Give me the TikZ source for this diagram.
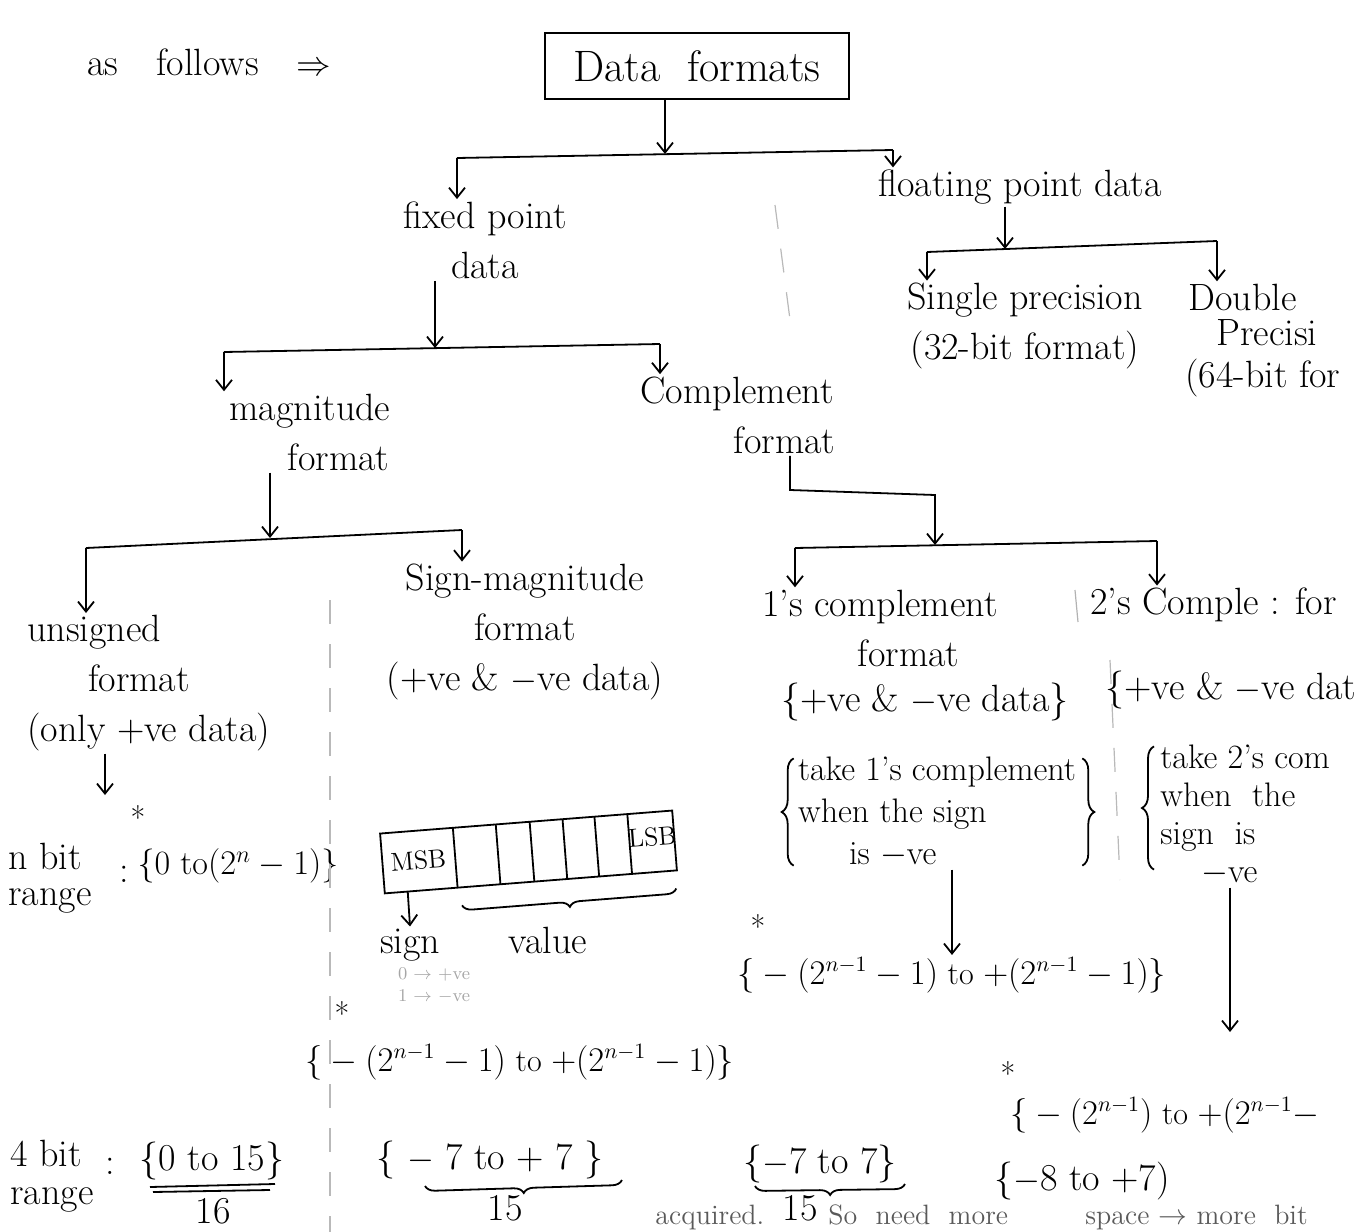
\documentclass[tikz,border=0pt]{standalone}
\usetikzlibrary{arrows.meta,decorations.pathreplacing,calc}
\begin{document}
\begin{tikzpicture}[x=0.5pt,y=-0.5pt,
  txt/.style={font=\fontsize{19}{25}\selectfont, inner sep=1pt, align=center},
  tighttxt/.style={font=\fontsize{19}{18}\selectfont, inner sep=1pt, align=left},
  smalltxt/.style={font=\fontsize{17}{21}\selectfont, inner sep=1pt, align=left},
  rangetxt/.style={font=\fontsize{16}{20}\selectfont, inner sep=1pt},
  notetxt/.style={font=\fontsize{14}{14}\selectfont, text=gray!70!black, anchor=base west, inner sep=0pt},
  arr/.style={-{Straight Barb[length=5pt,width=8pt]}, line width=0.9pt},
  ln/.style={line width=0.9pt},
  faint/.style={gray!55, line width=0.6pt, dash pattern=on 12pt off 10pt},
  starmark/.style={font=\fontsize{16}{16}\selectfont, inner sep=0pt},
  bracedown/.style={decorate, decoration={brace, mirror, amplitude=5pt}, line width=0.9pt},
  sidebrace/.style={decorate, decoration={brace, amplitude=6pt}, line width=0.9pt}]
\useasboundingbox (0,0) rectangle (1357,1232);
\clip (0,0) rectangle (1357,1232);

% intro and title
\node[txt, anchor=west] (intro) at (85,62) {as\quad follows\quad $\Rightarrow$};
\node[txt, draw, line width=1pt, font=\fontsize{22}{26}\selectfont, minimum width=152pt, minimum height=33pt] (title) at (697,66) {Data\ \ formats};

% level 1
\coordinate (b1l) at (457,158); \coordinate (b1m) at (665,154); \coordinate (b1r) at (893,150);
\draw[arr] (title.south -| b1m) -- (b1m);
\draw[ln] (b1l) -- (b1r);
\node[txt] (fixed) at (485,240) {fixed point\\data};
\node[txt] (float) at (1020,187) {floating point data};
\draw[arr] (b1l) -- (b1l |- fixed.north);
\draw[arr] (b1r) -- (b1r |- float.north);

% level 2 fixed
\coordinate (b2l) at (224,352); \coordinate (b2m) at (435,348); \coordinate (b2r) at (660,344);
\draw[arr] (fixed.south -| b2m) -- (b2m);
\draw[ln] (b2l) -- (b2r);
\node[txt] (mag) at (310,432) {magnitude\\\hspace*{1.5em}format};
\node[txt] (comp) at (737,415) {Complement\\\hspace*{2.5em}format};
\draw[arr] (b2l) -- (b2l |- mag.north);
\draw[arr] (b2r) -- (b2r |- comp.north);

% floating branch
\coordinate (b3l) at (927,252); \coordinate (b3m) at (1005,249); \coordinate (b3r) at (1217,241);
\draw[arr] (float.south -| b3m) -- (b3m);
\draw[ln] (b3l) -- (b3r);
\node[txt] (single) at (1025,326) {Single precision\\(32-bit format)};
\draw[arr] (b3l) -- (b3l |- single.north);
\node[txt, anchor=west] (double) at (1186,297) {Double};
\node[txt, anchor=west] (double2) at (1214,333) {Precisi};
\node[txt, anchor=west] (double3) at (1183,378) {(64-bit for};
\draw[arr] (b3r) -- (b3r |- double.north);

% level 3 magnitude
\coordinate (b4l) at (86,548); \coordinate (b4m) at (270,538); \coordinate (b4r) at (462,530);
\draw[arr] (mag.south -| b4m) -- (b4m);
\draw[ln] (b4l) -- (b4r);
\node[txt, align=left, anchor=north west] (uns) at (25,613) {unsigned\\\hspace*{1.6em}format\\(only +ve data)};
\draw[arr] (b4l) -- (b4l |- uns.north);
\node[txt] (sm) at (525,632) {Sign-magnitude\\format\\(+ve \& $-$ve data)};
\draw[arr] (b4r) -- (b4r |- sm.north);

% level 3 complement
\coordinate (c1) at (790,490); \coordinate (c2) at (935,495);
\coordinate (b5l) at (795,548); \coordinate (b5m) at (935,545); \coordinate (b5r) at (1157,541);
\draw[arr] (comp.south -| c1) -- (c1) -- (c2) -- (b5m);
\draw[ln] (b5l) -- (b5r);
\node[txt] (ones) at (880,628) {1's complement\\\hspace*{1.5em}format};
\draw[arr] (b5l) -- (b5l |- ones.north);
\node[txt, anchor=west] (twos) at (1088,605) {2's Comple : for};
\draw[arr] (b5r) -- (b5r |- twos.north);
\draw[gray!60, line width=0.6pt] (1075,590) -- (1078,622);

% unsigned range
\coordinate (ua) at (105,795);
\draw[arr] (uns.south -| ua) -- (ua);
\node[tighttxt] (nbit) at (50,878) {n bit\\range};
\node[txt] (ncolon) at (124,874) {:};
\node[starmark] (nstar) at (138,818) {*};
\node[txt, font=\fontsize{17}{21}\selectfont] (nr) at (238,866) {\{0 to$(2^n-1)$\}};

% register
\begin{scope}[shift={(528,852)}, rotate=4.5]
  \draw[ln] (-146,-30) rectangle (147,30);
  \foreach \x in {-73,-30,4,37,69,102} \draw[ln] (\x,-30) -- (\x,30);
  \node[font=\fontsize{13}{13}\selectfont, rotate=4.5, inner sep=0pt] (msb) at (-110,0) {MSB};
  \node[font=\fontsize{13}{13}\selectfont, rotate=4.5, inner sep=0pt] (lsb) at (125,-5) {LSB};
  \coordinate (sgn0) at (-123,30);
  \coordinate (vb1) at (-70,48); \coordinate (vb2) at (145,48);
\end{scope}
\node[txt] (sign) at (410,945) {sign};
\draw[arr] (sgn0) -- (sign.north);
\node[txt] (value) at (548,940) {value};
\draw[bracedown] (vb1) -- (vb2);
\node[font=\fontsize{9}{11}\selectfont, text=gray!70, align=left] (signkey) at (434,985) {0 $\rightarrow$ +ve\\1 $\rightarrow$ $-$ve};

% sign-magnitude range
\node[starmark] (smstar) at (342,1014) {*};
\node[rangetxt] (smr) at (520,1062) {$\Big\{-(2^{n-1}-1)$ to $+(2^{n-1}-1)\Big\}$};
\node[txt] (sm4) at (490,1160) {\{ $-$ 7 to + 7 \}};
\draw[bracedown] (425,1186) -- (622,1180);
\node[txt] (sm15) at (505,1208) {15};

% unsigned 4-bit
\node[txt, font=\fontsize{19}{19}\selectfont, align=left] (fb) at (52,1176) {4 bit\\range};
\node[txt] (fbc) at (110,1166) {:};
\node[txt] (fbr) at (212,1161) {\{0 to 15\}};
\draw[ln] (150,1187) -- (275,1184);
\draw[ln] (153,1192) -- (270,1190);
\node[txt] (f16) at (213,1211) {16};

% 1's complement details
\node[txt] (onesd) at (925,702) {\{+ve \& $-$ve data\}};
\node[smalltxt] (onest) at (937,812) {take 1's complement\\when the sign\\\hspace*{1.5em}is $-$ve};
\draw[sidebrace] ($(onest.south west)+(-2,-4)$) -- ($(onest.north west)+(-2,4)$);
\draw[sidebrace] ($(onest.north east)+(4,4)$) -- ($(onest.south east)+(4,-4)$);
\node[starmark] (onesstar) at (758,927) {*};
\node[rangetxt] (onesr) at (952,975) {$\Big\{-(2^{n-1}-1)$ to $+(2^{n-1}-1)\Big\}$};
\draw[arr] (onest.south -| onesr.north) -- (onesr.north);
\node[txt] (ones4) at (820,1164) {\{$-$7 to 7\}};
\draw[bracedown] (755,1186) -- (905,1184);
\node[txt] (ones15) at (800,1208) {15};

% 2's complement details
\node[txt, anchor=west] (twosd) at (1103,690) {\{+ve \& $-$ve dat};
\node[anchor=west, inner sep=1pt, align=left, font=\fontsize{17}{19}\selectfont] (twost) at (1158,815) {take 2's com\\when\ \ the\\sign\ \ is\\\hspace*{1.2em}$-$ve};
\draw[sidebrace] ($(twost.south west)+(-4,-18)$) -- ($(twost.north west)+(-4,4)$);
\coordinate (ta) at (1230,1032);
\draw[arr] (twost.south -| ta) -- (ta);
\node[starmark] (twosstar) at (1008,1074) {*};
\node[rangetxt, anchor=west] (twosr) at (1008,1115) {$\Big\{-(2^{n-1})$ to $+(2^{n-1}-$};
\node[txt] (twos4) at (1082,1181) {\{$-$8 to +7)};

% bottom note
\node[notetxt] (note1) at (655,1224) {acquired.};
\node[notetxt] (note2) at (828,1224) {So\ \ need\ \ more};
\node[notetxt] (note3) at (1085,1224) {space $\rightarrow$ more\ \ bit};

% faint separators
\draw[faint] (330,600) -- (330,1232);
\draw[faint] (775,205) -- (792,335);
\draw[faint] (1110,660) -- (1120,880);
\end{tikzpicture}
\end{document}
